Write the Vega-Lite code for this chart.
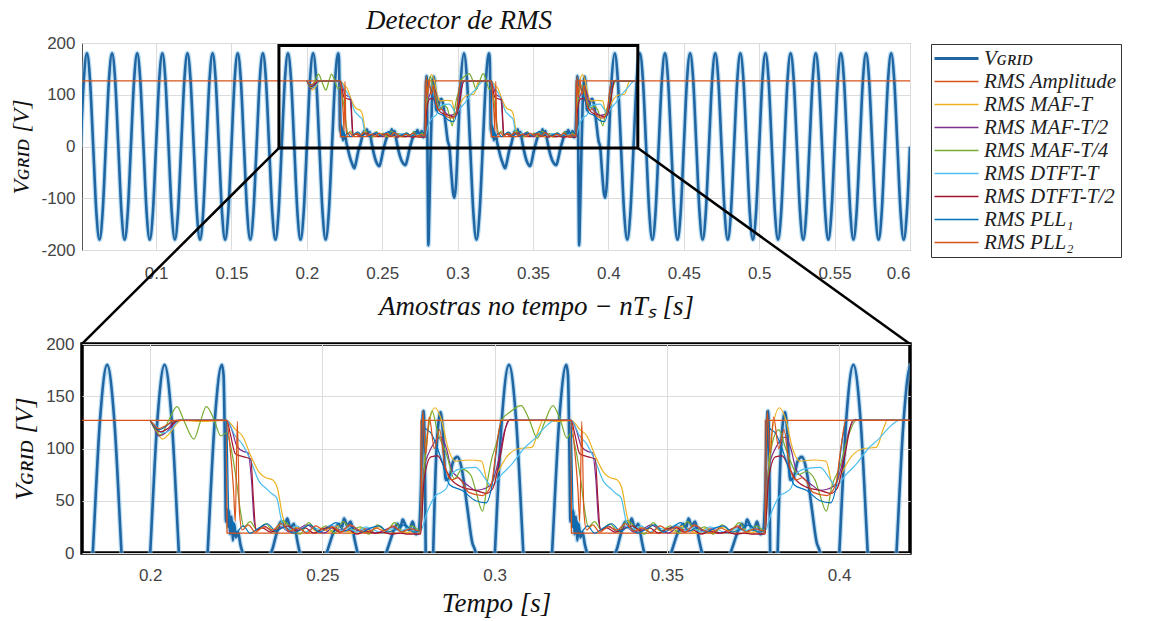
{
"$schema":"https://vega.github.io/schema/vega-lite/v6.json",
"padding":{"left":9,"top":6,"right":0,"bottom":0},
"background":"white",
"config":{"view":{"stroke":null},"axis":{"labelFont":"Liberation Sans","labelFontSize":17,"labelColor":"#444444","gridColor":"#dcdcdc","domain":false,"ticks":false,"titleFont":"Liberation Serif","titleFontStyle":"italic","titleFontWeight":"normal","titleColor":"#111111"}},
"datasets":{
"vg":[{"t":0.05,"v":0},{"t":0.05208,"v":127},{"t":0.05417,"v":180},{"t":0.05625,"v":127},{"t":0.05833,"v":0},{"t":0.06042,"v":-127},{"t":0.0625,"v":-180},{"t":0.06458,"v":-127},{"t":0.06667,"v":0},{"t":0.06875,"v":127},{"t":0.07083,"v":180},{"t":0.07292,"v":127},{"t":0.075,"v":0},{"t":0.07708,"v":-127},{"t":0.07917,"v":-180},{"t":0.08125,"v":-127},{"t":0.08333,"v":0},{"t":0.08542,"v":127},{"t":0.0875,"v":180},{"t":0.08958,"v":127},{"t":0.09167,"v":0},{"t":0.09375,"v":-127},{"t":0.09583,"v":-180},{"t":0.09792,"v":-127},
{"t":0.1,"v":0},{"t":0.10208,"v":127},{"t":0.10417,"v":180},{"t":0.10625,"v":127},{"t":0.10833,"v":0},{"t":0.11042,"v":-127},{"t":0.1125,"v":-180},{"t":0.11458,"v":-127},{"t":0.11667,"v":0},{"t":0.11875,"v":127},{"t":0.12083,"v":180},{"t":0.12292,"v":127},{"t":0.125,"v":0},{"t":0.12708,"v":-127},{"t":0.12917,"v":-180},{"t":0.13125,"v":-127},{"t":0.13333,"v":0},{"t":0.13542,"v":127},{"t":0.1375,"v":180},{"t":0.13958,"v":127},{"t":0.14167,"v":0},{"t":0.14375,"v":-127},{"t":0.14583,"v":-180},{"t":0.14792,"v":-127},
{"t":0.15,"v":0},{"t":0.15208,"v":127},{"t":0.15417,"v":180},{"t":0.15625,"v":127},{"t":0.15833,"v":0},{"t":0.16042,"v":-127},{"t":0.1625,"v":-180},{"t":0.16458,"v":-127},{"t":0.16667,"v":0},{"t":0.16875,"v":127},{"t":0.17083,"v":180},{"t":0.17292,"v":127},{"t":0.175,"v":0},{"t":0.17708,"v":-127},{"t":0.17917,"v":-180},{"t":0.18125,"v":-127},{"t":0.18333,"v":0},{"t":0.18542,"v":127},{"t":0.1875,"v":180},{"t":0.18958,"v":127},{"t":0.19167,"v":0},{"t":0.19375,"v":-127},{"t":0.19583,"v":-180},{"t":0.19792,"v":-127},
{"t":0.2,"v":0},{"t":0.20208,"v":127},{"t":0.20417,"v":180},{"t":0.20625,"v":127},{"t":0.20833,"v":0},{"t":0.21042,"v":-127},{"t":0.2125,"v":-180},{"t":0.21458,"v":-127},{"t":0.21667,"v":0},{"t":0.21875,"v":127},{"t":0.22083,"v":180},
{"t":0.2213,"v":170},{"t":0.2217,"v":100},{"t":0.222,"v":30},{"t":0.2223,"v":42},{"t":0.2226,"v":25},{"t":0.2229,"v":40},{"t":0.2232,"v":18},{"t":0.2236,"v":35},{"t":0.224,"v":12},{"t":0.2244,"v":28},{"t":0.2249,"v":15},{"t":0.2255,"v":20},{"t":0.2262,"v":8},{"t":0.227,"v":-2},{"t":0.2285,"v":-20},{"t":0.23,"v":-33},{"t":0.2315,"v":-42},{"t":0.2328,"v":-28},{"t":0.2342,"v":-8},{"t":0.2356,"v":5},{"t":0.2368,"v":20},{"t":0.238,"v":30},{"t":0.239,"v":26},{"t":0.2398,"v":33},{"t":0.2407,"v":24},{"t":0.2417,"v":28},{"t":0.2428,"v":10},{"t":0.244,"v":-8},{"t":0.2458,"v":-28},{"t":0.2472,"v":-36},{"t":0.2481,"v":-38},{"t":0.2492,"v":-28},{"t":0.2506,"v":-8},{"t":0.252,"v":8},{"t":0.2535,"v":22},{"t":0.2548,"v":28},{"t":0.2556,"v":24},{"t":0.2563,"v":33},{"t":0.2572,"v":26},{"t":0.2582,"v":30},{"t":0.2594,"v":12},{"t":0.2608,"v":-8},{"t":0.2625,"v":-25},{"t":0.264,"v":-33},{"t":0.2654,"v":-36},{"t":0.2666,"v":-25},{"t":0.268,"v":-6},{"t":0.2695,"v":10},{"t":0.2708,"v":22},{"t":0.2718,"v":28},{"t":0.2726,"v":24},{"t":0.2733,"v":32},{"t":0.2742,"v":26},{"t":0.2752,"v":22},{"t":0.2762,"v":30},{"t":0.2772,"v":18},{"t":0.278,"v":22},
{"t":0.2786,"v":60},{"t":0.279,"v":115},{"t":0.2794,"v":136},{"t":0.2798,"v":70},{"t":0.2802,"v":-80},{"t":0.2806,"v":-191},{"t":0.2811,"v":-140},{"t":0.282,"v":-20},{"t":0.283,"v":90},{"t":0.2837,"v":125},{"t":0.2843,"v":135},{"t":0.285,"v":115},{"t":0.2858,"v":70},{"t":0.2868,"v":72},{"t":0.288,"v":88},{"t":0.2892,"v":92},{"t":0.2905,"v":80},{"t":0.292,"v":45},{"t":0.2935,"v":10},{"t":0.2945,"v":0},{"t":0.2958,"v":-50},{"t":0.297,"v":-90},{"t":0.2979,"v":-99},{"t":0.299,"v":-70},{"t":0.3,"v":-5},
{"t":0.30208,"v":127},{"t":0.30417,"v":180},{"t":0.30625,"v":127},{"t":0.30833,"v":0},{"t":0.31042,"v":-127},{"t":0.3125,"v":-180},{"t":0.31458,"v":-127},{"t":0.31667,"v":0},{"t":0.31875,"v":127},{"t":0.32083,"v":180},
{"t":0.3213,"v":170},{"t":0.3217,"v":100},{"t":0.322,"v":30},{"t":0.3223,"v":42},{"t":0.3226,"v":25},{"t":0.3229,"v":40},{"t":0.3232,"v":18},{"t":0.3236,"v":35},{"t":0.324,"v":12},{"t":0.3244,"v":28},{"t":0.3249,"v":15},{"t":0.3255,"v":20},{"t":0.3262,"v":8},{"t":0.327,"v":-2},{"t":0.3285,"v":-20},{"t":0.33,"v":-33},{"t":0.3315,"v":-42},{"t":0.3328,"v":-28},{"t":0.3342,"v":-8},{"t":0.3356,"v":5},{"t":0.3368,"v":20},{"t":0.338,"v":30},{"t":0.339,"v":26},{"t":0.3398,"v":33},{"t":0.3407,"v":24},{"t":0.3417,"v":28},{"t":0.3428,"v":10},{"t":0.344,"v":-8},{"t":0.3458,"v":-28},{"t":0.3472,"v":-36},{"t":0.3481,"v":-38},{"t":0.3492,"v":-28},{"t":0.3506,"v":-8},{"t":0.352,"v":8},{"t":0.3535,"v":22},{"t":0.3548,"v":28},{"t":0.3556,"v":24},{"t":0.3563,"v":33},{"t":0.3572,"v":26},{"t":0.3582,"v":30},{"t":0.3594,"v":12},{"t":0.3608,"v":-8},{"t":0.3625,"v":-25},{"t":0.364,"v":-33},{"t":0.3654,"v":-36},{"t":0.3666,"v":-25},{"t":0.368,"v":-6},{"t":0.3695,"v":10},{"t":0.3708,"v":22},{"t":0.3718,"v":28},{"t":0.3726,"v":24},{"t":0.3733,"v":32},{"t":0.3742,"v":26},{"t":0.3752,"v":22},{"t":0.3762,"v":30},{"t":0.3772,"v":18},{"t":0.378,"v":22},
{"t":0.3786,"v":60},{"t":0.379,"v":115},{"t":0.3794,"v":136},{"t":0.3798,"v":70},{"t":0.3802,"v":-80},{"t":0.3806,"v":-191},{"t":0.3811,"v":-140},{"t":0.382,"v":-20},{"t":0.383,"v":90},{"t":0.3837,"v":125},{"t":0.3843,"v":135},{"t":0.385,"v":115},{"t":0.3858,"v":70},{"t":0.3868,"v":72},{"t":0.388,"v":88},{"t":0.3892,"v":92},{"t":0.3905,"v":80},{"t":0.392,"v":45},{"t":0.3935,"v":10},{"t":0.3945,"v":0},{"t":0.3958,"v":-50},{"t":0.397,"v":-90},{"t":0.3979,"v":-99},{"t":0.399,"v":-70},{"t":0.4,"v":-5},
{"t":0.40208,"v":127},{"t":0.40417,"v":180},{"t":0.40625,"v":127},{"t":0.40833,"v":0},{"t":0.41042,"v":-127},{"t":0.4125,"v":-180},{"t":0.41458,"v":-127},{"t":0.41667,"v":0},{"t":0.41875,"v":127},{"t":0.42083,"v":180},{"t":0.42292,"v":127},{"t":0.425,"v":0},{"t":0.42708,"v":-127},{"t":0.42917,"v":-180},{"t":0.43125,"v":-127},{"t":0.43333,"v":0},{"t":0.43542,"v":127},{"t":0.4375,"v":180},{"t":0.43958,"v":127},{"t":0.44167,"v":0},{"t":0.44375,"v":-127},{"t":0.44583,"v":-180},{"t":0.44792,"v":-127},
{"t":0.45,"v":0},{"t":0.45208,"v":127},{"t":0.45417,"v":180},{"t":0.45625,"v":127},{"t":0.45833,"v":0},{"t":0.46042,"v":-127},{"t":0.4625,"v":-180},{"t":0.46458,"v":-127},{"t":0.46667,"v":0},{"t":0.46875,"v":127},{"t":0.47083,"v":180},{"t":0.47292,"v":127},{"t":0.475,"v":0},{"t":0.47708,"v":-127},{"t":0.47917,"v":-180},{"t":0.48125,"v":-127},{"t":0.48333,"v":0},{"t":0.48542,"v":127},{"t":0.4875,"v":180},{"t":0.48958,"v":127},{"t":0.49167,"v":0},{"t":0.49375,"v":-127},{"t":0.49583,"v":-180},{"t":0.49792,"v":-127},
{"t":0.5,"v":0},{"t":0.50208,"v":127},{"t":0.50417,"v":180},{"t":0.50625,"v":127},{"t":0.50833,"v":0},{"t":0.51042,"v":-127},{"t":0.5125,"v":-180},{"t":0.51458,"v":-127},{"t":0.51667,"v":0},{"t":0.51875,"v":127},{"t":0.52083,"v":180},{"t":0.52292,"v":127},{"t":0.525,"v":0},{"t":0.52708,"v":-127},{"t":0.52917,"v":-180},{"t":0.53125,"v":-127},{"t":0.53333,"v":0},{"t":0.53542,"v":127},{"t":0.5375,"v":180},{"t":0.53958,"v":127},{"t":0.54167,"v":0},{"t":0.54375,"v":-127},{"t":0.54583,"v":-180},{"t":0.54792,"v":-127},
{"t":0.55,"v":0},{"t":0.55208,"v":127},{"t":0.55417,"v":180},{"t":0.55625,"v":127},{"t":0.55833,"v":0},{"t":0.56042,"v":-127},{"t":0.5625,"v":-180},{"t":0.56458,"v":-127},{"t":0.56667,"v":0},{"t":0.56875,"v":127},{"t":0.57083,"v":180},{"t":0.57292,"v":127},{"t":0.575,"v":0},{"t":0.57708,"v":-127},{"t":0.57917,"v":-180},{"t":0.58125,"v":-127},{"t":0.58333,"v":0},{"t":0.58542,"v":127},{"t":0.5875,"v":180},{"t":0.58958,"v":127},{"t":0.59167,"v":0},{"t":0.59375,"v":-127},{"t":0.59583,"v":-180},{"t":0.59792,"v":-127},{"t":0.6,"v":0}],
"amp":[{"t":0.05,"v":127},{"t":0.2222,"v":127},{"t":0.2223,"v":19},{"t":0.2785,"v":19},{"t":0.2786,"v":127},{"t":0.3222,"v":127},{"t":0.3223,"v":19},{"t":0.3785,"v":19},{"t":0.3786,"v":127},{"t":0.6,"v":127}],
"m1":[{"t":0.2,"v":127},{"t":0.2015,"v":120},{"t":0.2035,"v":109},{"t":0.2055,"v":114},{"t":0.2075,"v":123},{"t":0.209,"v":127},{"t":0.215,"v":126},{"t":0.2222,"v":127},{"t":0.2248,"v":118},{"t":0.2268,"v":112},{"t":0.2292,"v":93},{"t":0.2317,"v":77},{"t":0.2336,"v":72},{"t":0.2355,"v":70},{"t":0.237,"v":61},{"t":0.2384,"v":36},{"t":0.2393,"v":26},{"t":0.2405,"v":21},{"t":0.242,"v":25},{"t":0.244,"v":22},{"t":0.246,"v":27},{"t":0.248,"v":21},{"t":0.25,"v":24},{"t":0.252,"v":20},{"t":0.2545,"v":26},{"t":0.2565,"v":22},{"t":0.259,"v":19},{"t":0.2615,"v":24},{"t":0.264,"v":21},{"t":0.2665,"v":25},{"t":0.269,"v":20},{"t":0.2715,"v":23},{"t":0.274,"v":19},{"t":0.2765,"v":21},{"t":0.2785,"v":19},{"t":0.2793,"v":70},{"t":0.2805,"v":115},{"t":0.2827,"v":139},{"t":0.2845,"v":128},{"t":0.2865,"v":100},{"t":0.2885,"v":88},{"t":0.2925,"v":89},{"t":0.2962,"v":88},{"t":0.2983,"v":64},{"t":0.3005,"v":75},{"t":0.3035,"v":92},{"t":0.3072,"v":100},{"t":0.3108,"v":101},{"t":0.313,"v":120},{"t":0.314,"v":127},{"t":0.318,"v":126},{"t":0.3222,"v":127},{"t":0.3248,"v":118},{"t":0.3268,"v":112},{"t":0.3292,"v":93},{"t":0.3317,"v":77},{"t":0.3336,"v":72},{"t":0.3355,"v":70},{"t":0.337,"v":61},{"t":0.3384,"v":36},{"t":0.3393,"v":26},{"t":0.3405,"v":21},{"t":0.342,"v":25},{"t":0.344,"v":22},{"t":0.346,"v":27},{"t":0.348,"v":21},{"t":0.35,"v":24},{"t":0.352,"v":20},{"t":0.3545,"v":26},{"t":0.3565,"v":22},{"t":0.359,"v":19},{"t":0.3615,"v":24},{"t":0.364,"v":21},{"t":0.3665,"v":25},{"t":0.369,"v":20},{"t":0.3715,"v":23},{"t":0.374,"v":19},{"t":0.3765,"v":21},{"t":0.3785,"v":19},{"t":0.3793,"v":70},{"t":0.3805,"v":115},{"t":0.3827,"v":139},{"t":0.3845,"v":128},{"t":0.3865,"v":100},{"t":0.3885,"v":88},{"t":0.3925,"v":89},{"t":0.3962,"v":88},{"t":0.3983,"v":64},{"t":0.4005,"v":75},{"t":0.4035,"v":92},{"t":0.4072,"v":100},{"t":0.4108,"v":101},{"t":0.413,"v":120},{"t":0.414,"v":127},{"t":0.42,"v":127}],
"d1":[{"t":0.2,"v":127},{"t":0.2015,"v":122},{"t":0.2035,"v":115},{"t":0.206,"v":118},{"t":0.2085,"v":127},{"t":0.2222,"v":127},{"t":0.2247,"v":112},{"t":0.2268,"v":104},{"t":0.2292,"v":88},{"t":0.2317,"v":68},{"t":0.2336,"v":62},{"t":0.2352,"v":57},{"t":0.2367,"v":53},{"t":0.238,"v":33},{"t":0.2388,"v":24},{"t":0.24,"v":22},{"t":0.2425,"v":26},{"t":0.245,"v":20},{"t":0.2475,"v":24},{"t":0.25,"v":22},{"t":0.2525,"v":27},{"t":0.255,"v":21},{"t":0.2575,"v":24},{"t":0.26,"v":20},{"t":0.2625,"v":25},{"t":0.265,"v":22},{"t":0.2675,"v":19},{"t":0.27,"v":23},{"t":0.2725,"v":21},{"t":0.275,"v":24},{"t":0.2775,"v":20},{"t":0.2785,"v":21},{"t":0.2805,"v":40},{"t":0.2829,"v":55},{"t":0.2845,"v":58},{"t":0.286,"v":62},{"t":0.2875,"v":75},{"t":0.2895,"v":80},{"t":0.2945,"v":82},{"t":0.2975,"v":70},{"t":0.299,"v":64},{"t":0.302,"v":75},{"t":0.305,"v":85},{"t":0.3085,"v":100},{"t":0.3115,"v":109},{"t":0.3145,"v":120},{"t":0.3175,"v":127},{"t":0.3222,"v":127},{"t":0.3247,"v":112},{"t":0.3268,"v":104},{"t":0.3292,"v":88},{"t":0.3317,"v":68},{"t":0.3336,"v":62},{"t":0.3352,"v":57},{"t":0.3367,"v":53},{"t":0.338,"v":33},{"t":0.3388,"v":24},{"t":0.34,"v":22},{"t":0.3425,"v":26},{"t":0.345,"v":20},{"t":0.3475,"v":24},{"t":0.35,"v":22},{"t":0.3525,"v":27},{"t":0.355,"v":21},{"t":0.3575,"v":24},{"t":0.36,"v":20},{"t":0.3625,"v":25},{"t":0.365,"v":22},{"t":0.3675,"v":19},{"t":0.37,"v":23},{"t":0.3725,"v":21},{"t":0.375,"v":24},{"t":0.3775,"v":20},{"t":0.3785,"v":21},{"t":0.3805,"v":40},{"t":0.3829,"v":55},{"t":0.3845,"v":58},{"t":0.386,"v":62},{"t":0.3875,"v":75},{"t":0.3895,"v":80},{"t":0.3945,"v":82},{"t":0.3975,"v":70},{"t":0.399,"v":64},{"t":0.402,"v":75},{"t":0.405,"v":85},{"t":0.4085,"v":100},{"t":0.4115,"v":109},{"t":0.4145,"v":120},{"t":0.4175,"v":127},{"t":0.42,"v":127}],
"m2":[{"t":0.2,"v":127},{"t":0.2012,"v":119},{"t":0.2025,"v":112},{"t":0.2045,"v":115},{"t":0.2065,"v":122},{"t":0.2083,"v":127},{"t":0.2222,"v":127},{"t":0.2237,"v":118},{"t":0.2252,"v":102},{"t":0.2272,"v":97},{"t":0.2284,"v":96},{"t":0.2294,"v":70},{"t":0.2302,"v":30},{"t":0.231,"v":22},{"t":0.233,"v":26},{"t":0.2355,"v":21},{"t":0.238,"v":25},{"t":0.2405,"v":20},{"t":0.243,"v":23},{"t":0.2455,"v":27},{"t":0.248,"v":22},{"t":0.2505,"v":19},{"t":0.253,"v":24},{"t":0.2555,"v":22},{"t":0.258,"v":26},{"t":0.2605,"v":21},{"t":0.263,"v":23},{"t":0.2655,"v":19},{"t":0.268,"v":22},{"t":0.2705,"v":25},{"t":0.273,"v":21},{"t":0.2755,"v":23},{"t":0.2785,"v":20},{"t":0.2795,"v":80},{"t":0.2815,"v":100},{"t":0.283,"v":108},{"t":0.2845,"v":111},{"t":0.286,"v":100},{"t":0.2875,"v":80},{"t":0.2895,"v":72},{"t":0.2925,"v":64},{"t":0.2945,"v":60},{"t":0.2965,"v":61},{"t":0.299,"v":66},{"t":0.3005,"v":80},{"t":0.303,"v":118},{"t":0.3047,"v":128},{"t":0.3065,"v":127},{"t":0.3222,"v":127},{"t":0.3237,"v":118},{"t":0.3252,"v":102},{"t":0.3272,"v":97},{"t":0.3284,"v":96},{"t":0.3294,"v":70},{"t":0.3302,"v":30},{"t":0.331,"v":22},{"t":0.333,"v":26},{"t":0.3355,"v":21},{"t":0.338,"v":25},{"t":0.3405,"v":20},{"t":0.343,"v":23},{"t":0.3455,"v":27},{"t":0.348,"v":22},{"t":0.3505,"v":19},{"t":0.353,"v":24},{"t":0.3555,"v":22},{"t":0.358,"v":26},{"t":0.3605,"v":21},{"t":0.363,"v":23},{"t":0.3655,"v":19},{"t":0.368,"v":22},{"t":0.3705,"v":25},{"t":0.373,"v":21},{"t":0.3755,"v":23},{"t":0.3785,"v":20},{"t":0.3795,"v":80},{"t":0.3815,"v":100},{"t":0.383,"v":108},{"t":0.3845,"v":111},{"t":0.386,"v":100},{"t":0.3875,"v":80},{"t":0.3895,"v":72},{"t":0.3925,"v":64},{"t":0.3945,"v":60},{"t":0.3965,"v":61},{"t":0.399,"v":66},{"t":0.4005,"v":80},{"t":0.403,"v":118},{"t":0.4047,"v":128},{"t":0.4065,"v":127},{"t":0.42,"v":127}],
"m4":[{"t":0.2,"v":127},{"t":0.2015,"v":118},{"t":0.203,"v":113},{"t":0.2055,"v":128},{"t":0.2078,"v":140},{"t":0.21,"v":125},{"t":0.2127,"v":109},{"t":0.2145,"v":125},{"t":0.2163,"v":140},{"t":0.2185,"v":128},{"t":0.2205,"v":112},{"t":0.2222,"v":115},{"t":0.2235,"v":100},{"t":0.225,"v":70},{"t":0.2262,"v":40},{"t":0.2272,"v":25},{"t":0.229,"v":30},{"t":0.231,"v":22},{"t":0.2335,"v":28},{"t":0.236,"v":20},{"t":0.2385,"v":31},{"t":0.241,"v":24},{"t":0.2435,"v":18},{"t":0.246,"v":29},{"t":0.2485,"v":21},{"t":0.251,"v":26},{"t":0.2535,"v":19},{"t":0.256,"v":30},{"t":0.2585,"v":22},{"t":0.261,"v":25},{"t":0.2635,"v":18},{"t":0.266,"v":27},{"t":0.2685,"v":21},{"t":0.271,"v":29},{"t":0.2735,"v":20},{"t":0.276,"v":26},{"t":0.2785,"v":21},{"t":0.2795,"v":75},{"t":0.281,"v":125},{"t":0.2818,"v":136},{"t":0.2835,"v":115},{"t":0.286,"v":95},{"t":0.2883,"v":71},{"t":0.2905,"v":80},{"t":0.293,"v":75},{"t":0.2945,"v":60},{"t":0.2965,"v":40},{"t":0.298,"v":70},{"t":0.299,"v":88},{"t":0.3005,"v":105},{"t":0.302,"v":127},{"t":0.3045,"v":135},{"t":0.3077,"v":141},{"t":0.31,"v":128},{"t":0.3124,"v":110},{"t":0.3145,"v":125},{"t":0.3169,"v":141},{"t":0.319,"v":128},{"t":0.321,"v":110},{"t":0.3222,"v":115},{"t":0.3235,"v":100},{"t":0.325,"v":70},{"t":0.3262,"v":40},{"t":0.3272,"v":25},{"t":0.329,"v":30},{"t":0.331,"v":22},{"t":0.3335,"v":28},{"t":0.336,"v":20},{"t":0.3385,"v":31},{"t":0.341,"v":24},{"t":0.3435,"v":18},{"t":0.346,"v":29},{"t":0.3485,"v":21},{"t":0.351,"v":26},{"t":0.3535,"v":19},{"t":0.356,"v":30},{"t":0.3585,"v":22},{"t":0.361,"v":25},{"t":0.3635,"v":18},{"t":0.366,"v":27},{"t":0.3685,"v":21},{"t":0.371,"v":29},{"t":0.3735,"v":20},{"t":0.376,"v":26},{"t":0.3785,"v":21},{"t":0.3795,"v":75},{"t":0.381,"v":110},{"t":0.3825,"v":118},{"t":0.3845,"v":100},{"t":0.3883,"v":75},{"t":0.3905,"v":78},{"t":0.393,"v":70},{"t":0.3945,"v":55},{"t":0.3963,"v":40},{"t":0.398,"v":65},{"t":0.4002,"v":82},{"t":0.4025,"v":110},{"t":0.405,"v":127},{"t":0.42,"v":127}],
"d2":[{"t":0.2,"v":127},{"t":0.2012,"v":121},{"t":0.2028,"v":116},{"t":0.205,"v":119},{"t":0.207,"v":125},{"t":0.2085,"v":127},{"t":0.2222,"v":127},{"t":0.2232,"v":115},{"t":0.2247,"v":95},{"t":0.2272,"v":92},{"t":0.2292,"v":90},{"t":0.23,"v":50},{"t":0.2307,"v":22},{"t":0.2325,"v":24},{"t":0.235,"v":20},{"t":0.2375,"v":23},{"t":0.24,"v":26},{"t":0.2425,"v":21},{"t":0.245,"v":24},{"t":0.2475,"v":19},{"t":0.25,"v":23},{"t":0.2525,"v":25},{"t":0.255,"v":20},{"t":0.2575,"v":22},{"t":0.26,"v":18},{"t":0.2625,"v":21},{"t":0.265,"v":19},{"t":0.2675,"v":20},{"t":0.27,"v":18},{"t":0.2725,"v":19},{"t":0.275,"v":18},{"t":0.2785,"v":18},{"t":0.2795,"v":70},{"t":0.2815,"v":92},{"t":0.2835,"v":93},{"t":0.285,"v":85},{"t":0.2875,"v":70},{"t":0.2905,"v":63},{"t":0.2945,"v":60},{"t":0.2975,"v":57},{"t":0.2995,"v":62},{"t":0.3015,"v":90},{"t":0.304,"v":127},{"t":0.3222,"v":127},{"t":0.3232,"v":115},{"t":0.3247,"v":95},{"t":0.3272,"v":92},{"t":0.3292,"v":90},{"t":0.33,"v":50},{"t":0.3307,"v":22},{"t":0.3325,"v":24},{"t":0.335,"v":20},{"t":0.3375,"v":23},{"t":0.34,"v":26},{"t":0.3425,"v":21},{"t":0.345,"v":24},{"t":0.3475,"v":19},{"t":0.35,"v":23},{"t":0.3525,"v":25},{"t":0.355,"v":20},{"t":0.3575,"v":22},{"t":0.36,"v":18},{"t":0.3625,"v":21},{"t":0.365,"v":19},{"t":0.3675,"v":20},{"t":0.37,"v":18},{"t":0.3725,"v":19},{"t":0.375,"v":18},{"t":0.3785,"v":18},{"t":0.3795,"v":70},{"t":0.3815,"v":92},{"t":0.3835,"v":93},{"t":0.385,"v":85},{"t":0.3875,"v":70},{"t":0.3905,"v":63},{"t":0.3945,"v":60},{"t":0.3975,"v":57},{"t":0.3995,"v":62},{"t":0.4015,"v":90},{"t":0.404,"v":127},{"t":0.42,"v":127}],
"p1":[{"t":0.2,"v":127},{"t":0.201,"v":122},{"t":0.2025,"v":118},{"t":0.2045,"v":121},{"t":0.2065,"v":126},{"t":0.208,"v":127},{"t":0.2222,"v":127},{"t":0.2228,"v":40},{"t":0.2234,"v":22},{"t":0.224,"v":30},{"t":0.225,"v":20},{"t":0.227,"v":26},{"t":0.229,"v":19},{"t":0.2315,"v":24},{"t":0.234,"v":28},{"t":0.2365,"v":21},{"t":0.239,"v":25},{"t":0.2415,"v":19},{"t":0.244,"v":23},{"t":0.2465,"v":27},{"t":0.249,"v":20},{"t":0.2515,"v":24},{"t":0.254,"v":29},{"t":0.2565,"v":21},{"t":0.259,"v":25},{"t":0.2615,"v":20},{"t":0.264,"v":24},{"t":0.2665,"v":26},{"t":0.269,"v":20},{"t":0.2715,"v":23},{"t":0.274,"v":27},{"t":0.2765,"v":20},{"t":0.2785,"v":22},{"t":0.2789,"v":136},{"t":0.2797,"v":120},{"t":0.2815,"v":115},{"t":0.2845,"v":90},{"t":0.287,"v":65},{"t":0.2905,"v":60},{"t":0.2945,"v":50},{"t":0.2975,"v":48},{"t":0.2995,"v":70},{"t":0.301,"v":110},{"t":0.3025,"v":127},{"t":0.3222,"v":127},{"t":0.3228,"v":40},{"t":0.3234,"v":22},{"t":0.324,"v":30},{"t":0.325,"v":20},{"t":0.327,"v":26},{"t":0.329,"v":19},{"t":0.3315,"v":24},{"t":0.334,"v":28},{"t":0.3365,"v":21},{"t":0.339,"v":25},{"t":0.3415,"v":19},{"t":0.344,"v":23},{"t":0.3465,"v":27},{"t":0.349,"v":20},{"t":0.3515,"v":24},{"t":0.354,"v":29},{"t":0.3565,"v":21},{"t":0.359,"v":25},{"t":0.3615,"v":20},{"t":0.364,"v":24},{"t":0.3665,"v":26},{"t":0.369,"v":20},{"t":0.3715,"v":23},{"t":0.374,"v":27},{"t":0.3765,"v":20},{"t":0.3785,"v":22},{"t":0.3789,"v":136},{"t":0.3797,"v":120},{"t":0.3815,"v":115},{"t":0.3845,"v":90},{"t":0.387,"v":65},{"t":0.3905,"v":60},{"t":0.3945,"v":50},{"t":0.3975,"v":48},{"t":0.3995,"v":70},{"t":0.401,"v":110},{"t":0.4025,"v":127},{"t":0.42,"v":127}],
"p2":[{"t":0.2,"v":127},{"t":0.201,"v":123},{"t":0.2025,"v":119},{"t":0.2045,"v":122},{"t":0.2065,"v":126},{"t":0.208,"v":127},{"t":0.2222,"v":127},{"t":0.2232,"v":100},{"t":0.2242,"v":60},{"t":0.2247,"v":30},{"t":0.2253,"v":126},{"t":0.2259,"v":40},{"t":0.2267,"v":22},{"t":0.2285,"v":27},{"t":0.2305,"v":20},{"t":0.233,"v":25},{"t":0.2355,"v":22},{"t":0.238,"v":28},{"t":0.2405,"v":21},{"t":0.243,"v":24},{"t":0.2455,"v":19},{"t":0.248,"v":26},{"t":0.2505,"v":22},{"t":0.253,"v":25},{"t":0.2555,"v":20},{"t":0.258,"v":27},{"t":0.2605,"v":22},{"t":0.263,"v":19},{"t":0.2655,"v":24},{"t":0.268,"v":21},{"t":0.2705,"v":26},{"t":0.273,"v":20},{"t":0.2755,"v":23},{"t":0.2785,"v":21},{"t":0.2791,"v":136},{"t":0.28,"v":95},{"t":0.281,"v":130},{"t":0.2825,"v":100},{"t":0.284,"v":118},{"t":0.2855,"v":85},{"t":0.2875,"v":70},{"t":0.2895,"v":72},{"t":0.2925,"v":58},{"t":0.2965,"v":55},{"t":0.299,"v":65},{"t":0.3005,"v":100},{"t":0.302,"v":127},{"t":0.3222,"v":127},{"t":0.3232,"v":100},{"t":0.3242,"v":60},{"t":0.3247,"v":30},{"t":0.3253,"v":126},{"t":0.3259,"v":40},{"t":0.3267,"v":22},{"t":0.3285,"v":27},{"t":0.3305,"v":20},{"t":0.333,"v":25},{"t":0.3355,"v":22},{"t":0.338,"v":28},{"t":0.3405,"v":21},{"t":0.343,"v":24},{"t":0.3455,"v":19},{"t":0.348,"v":26},{"t":0.3505,"v":22},{"t":0.353,"v":25},{"t":0.3555,"v":20},{"t":0.358,"v":27},{"t":0.3605,"v":22},{"t":0.363,"v":19},{"t":0.3655,"v":24},{"t":0.368,"v":21},{"t":0.3705,"v":26},{"t":0.373,"v":20},{"t":0.3755,"v":23},{"t":0.3785,"v":21},{"t":0.3791,"v":136},{"t":0.38,"v":95},{"t":0.381,"v":130},{"t":0.3825,"v":100},{"t":0.384,"v":118},{"t":0.3855,"v":85},{"t":0.3875,"v":70},{"t":0.3895,"v":72},{"t":0.3925,"v":58},{"t":0.3965,"v":55},{"t":0.399,"v":65},{"t":0.4005,"v":100},{"t":0.402,"v":127},{"t":0.42,"v":127}],
"box":[{"t":0.1815,"t2":0.4195,"v":-3,"v2":195}],
"conn":[{"t":0.1815,"v":-3,"t2":0.0509,"v2":-381.6},{"t":0.4195,"v":-3,"t2":0.6,"v2":-381.6}]
},
"spacing":94,
"bounds":"flush",
"vconcat":[
{"width":828,"height":207,
 "title":{"text":"Detector de RMS","font":"Liberation Serif","fontStyle":"italic","fontWeight":"normal","fontSize":27,"offset":-1,"dx":-37,"color":"#111111"},
 "view":{"stroke":"#555555","strokeWidth":1},
 "encoding":{
  "x":{"field":"t","type":"quantitative","scale":{"domain":[0.0509,0.6],"nice":false,"zero":false},"axis":{"values":[0.1,0.15,0.2,0.25,0.3,0.35,0.4,0.45,0.5,0.55,0.6],"labelExpr":"''+datum.value","labelPadding":15,"grid":true,"title":"Amostras no tempo − nTₛ [s]","titleFontSize":27,"titleX":454,"titleY":64,"titleBaseline":"alphabetic","titleAlign":"center"}},
  "y":{"field":"v","type":"quantitative","scale":{"domain":[-200,200],"nice":false},"axis":{"values":[-200,-100,0,100,200],"labelExpr":"''+datum.value","labelPadding":7,"grid":true,"title":"Vɢʀɪᴅ [V]","titleFontSize":24,"titlePadding":7}}
 },
 "layer":[
  {"data":{"name":"vg"},"mark":{"type":"line","interpolate":"monotone","clip":true,"color":"#8cc4ea","strokeWidth":5,"opacity":0.55}},
  {"data":{"name":"vg"},"mark":{"type":"line","interpolate":"monotone","clip":true,"strokeWidth":2.6},"encoding":{"color":{"datum":"Vɢʀɪᴅ","scale":{"domain":["Vɢʀɪᴅ","RMS Amplitude","RMS MAF-T","RMS MAF-T/2","RMS MAF-T/4","RMS DTFT-T","RMS DTFT-T/2","RMS PLL₁","RMS PLL₂"],"range":["#1f66a3","#D95319","#EDB120","#7E2F8E","#77AC30","#4DBEEE","#A2142F","#0072BD","#D95319"]},"legend":{"orient":"none","legendX":849,"legendY":1,"title":null,"symbolType":"M-2,0H2","symbolSize":484,"symbolStrokeWidth":1.5,"symbolOffset":11,"labelOffset":17,"labelFont":"Liberation Serif","labelFontStyle":"italic","labelFontSize":21,"labelColor":"#222222","labelLimit":300,"strokeColor":"#333333","fillColor":"white","padding":4,"rowPadding":1,"encode":{"symbols":{"update":{"fill":{"value":"transparent"},"strokeWidth":{"signal":"datum.value === 'Vɢʀɪᴅ' ? 3 : 1.5"}}}}}}}},
  {"data":{"name":"amp"},"mark":{"type":"line","clip":true,"strokeWidth":1.3},"encoding":{"color":{"datum":"RMS Amplitude"}}},
  {"data":{"name":"m1"},"mark":{"type":"line","interpolate":"monotone","clip":true,"strokeWidth":1.2},"encoding":{"color":{"datum":"RMS MAF-T"}}},
  {"data":{"name":"m2"},"mark":{"type":"line","interpolate":"monotone","clip":true,"strokeWidth":1.2},"encoding":{"color":{"datum":"RMS MAF-T/2"}}},
  {"data":{"name":"m4"},"mark":{"type":"line","interpolate":"monotone","clip":true,"strokeWidth":1.2},"encoding":{"color":{"datum":"RMS MAF-T/4"}}},
  {"data":{"name":"d1"},"mark":{"type":"line","interpolate":"monotone","clip":true,"strokeWidth":1.2},"encoding":{"color":{"datum":"RMS DTFT-T"}}},
  {"data":{"name":"d2"},"mark":{"type":"line","interpolate":"monotone","clip":true,"strokeWidth":1.2},"encoding":{"color":{"datum":"RMS DTFT-T/2"}}},
  {"data":{"name":"p1"},"mark":{"type":"line","interpolate":"monotone","clip":true,"strokeWidth":1.2},"encoding":{"color":{"datum":"RMS PLL₁"}}},
  {"data":{"name":"p2"},"mark":{"type":"line","interpolate":"monotone","clip":true,"strokeWidth":1.2},"encoding":{"color":{"datum":"RMS PLL₂"}}},
  {"data":{"name":"box"},"mark":{"type":"rect","filled":false,"color":"black","strokeWidth":3,"clip":false},"encoding":{"x2":{"field":"t2"},"y2":{"field":"v2"}}},
  {"data":{"name":"conn"},"mark":{"type":"rule","color":"black","strokeWidth":2.5,"clip":false},"encoding":{"x2":{"field":"t2"},"y2":{"field":"v2"}}}
 ]},
{"width":828,"height":209,
 "view":{"stroke":"black","strokeWidth":3.5},
 "encoding":{
  "x":{"field":"t","type":"quantitative","scale":{"domain":[0.1802,0.4206],"nice":false,"zero":false},"axis":{"values":[0.2,0.25,0.3,0.35,0.4],"labelExpr":"''+datum.value","labelPadding":14,"grid":true,"title":"Tempo [s]","titleFontSize":27,"titleY":58,"titleBaseline":"alphabetic"}},
  "y":{"field":"v","type":"quantitative","scale":{"domain":[0,200],"nice":false},"axis":{"values":[0,50,100,150,200],"labelExpr":"''+datum.value","labelPadding":8,"grid":true,"title":"Vɢʀɪᴅ [V]","titleFontSize":26,"titlePadding":8}}
 },
 "layer":[
  {"data":{"name":"vg"},"mark":{"type":"line","interpolate":"monotone","clip":true,"color":"#8cc4ea","strokeWidth":5,"opacity":0.55}},
  {"data":{"name":"vg"},"mark":{"type":"line","interpolate":"monotone","clip":true,"strokeWidth":2.6,"color":"#1f66a3"}},
  {"data":{"name":"amp"},"mark":{"type":"line","clip":true,"strokeWidth":1.3,"color":"#D95319"}},
  {"data":{"name":"m1"},"mark":{"type":"line","interpolate":"monotone","clip":true,"strokeWidth":1.2,"color":"#EDB120"}},
  {"data":{"name":"m2"},"mark":{"type":"line","interpolate":"monotone","clip":true,"strokeWidth":1.2,"color":"#7E2F8E"}},
  {"data":{"name":"m4"},"mark":{"type":"line","interpolate":"monotone","clip":true,"strokeWidth":1.2,"color":"#77AC30"}},
  {"data":{"name":"d1"},"mark":{"type":"line","interpolate":"monotone","clip":true,"strokeWidth":1.2,"color":"#4DBEEE"}},
  {"data":{"name":"d2"},"mark":{"type":"line","interpolate":"monotone","clip":true,"strokeWidth":1.2,"color":"#A2142F"}},
  {"data":{"name":"p1"},"mark":{"type":"line","interpolate":"monotone","clip":true,"strokeWidth":1.2,"color":"#0072BD"}},
  {"data":{"name":"p2"},"mark":{"type":"line","interpolate":"monotone","clip":true,"strokeWidth":1.2,"color":"#D95319"}}
 ]}
]
}
